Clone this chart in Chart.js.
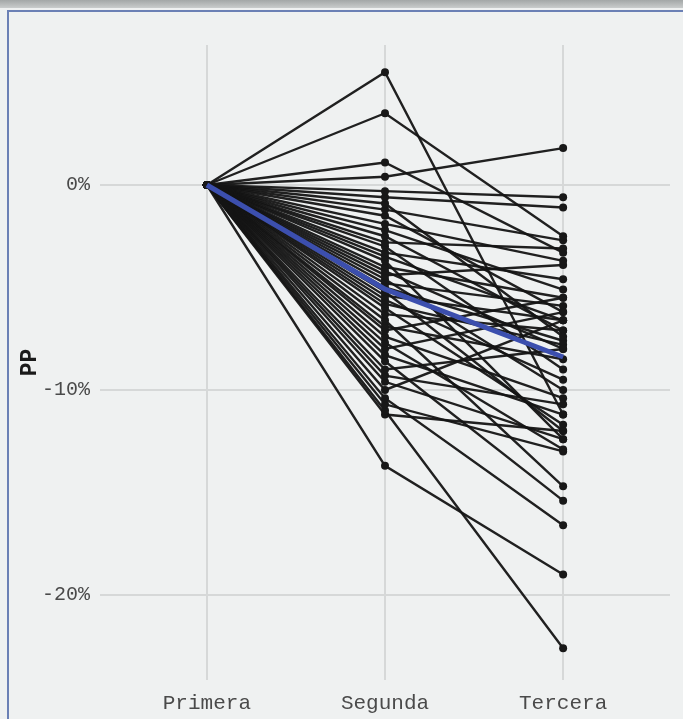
<!DOCTYPE html>
<html>
<head>
<meta charset="utf-8">
<script src="https://cdn.jsdelivr.net/npm/chart.js@4/dist/chart.umd.min.js"></script>
<style>
  html, body { margin: 0; padding: 0; width: 683px; height: 719px; overflow: hidden; background: #eff1f1; }
  #shade { position: absolute; left: 0; top: 0; width: 683px; height: 8px; background: linear-gradient(#a3a7a7, #c9cccc); }
  #frameTop { position: absolute; left: 7px; top: 10px; width: 676px; height: 2px; background: #6b80b5; }
  #frameLeft { position: absolute; left: 7px; top: 10px; width: 2px; height: 709px; background: #6b80b5; }
  #wrap { position: absolute; left: 10px; top: 12px; width: 673px; height: 707px; }
</style>
</head>
<body>
<div id="shade"></div>
<div id="frameTop"></div>
<div id="frameLeft"></div>
<div id="wrap"><canvas id="c"></canvas></div>
<script>
// Rounds of measurement
const categories = ['Primera', 'Segunda', 'Tercera'];

// Every series starts at the baseline in the first round (%)
const baseline = 0;

// Change in the second round, one entry per series (%)
const segunda = [
  5.5, 3.5, 1.1, 0.4, -0.3, -0.6, -0.9, -1.2, -1.5, -1.9,
  -2.2, -2.5, -2.8, -3.0, -3.3, -3.5, -3.7, -4.0, -4.2, -4.4,
  -4.6, -4.8, -5.0, -5.2, -5.4, -5.6, -5.8, -6.0, -6.3, -6.6,
  -6.9, -7.1, -7.4, -7.7, -8.0, -8.3, -8.6, -9.0, -9.3, -9.6,
  -10.0, -10.4, -10.7, -11.0, -11.2, -13.7
];

// Change in the third round, same order as above (%)
const tercera = [
  -11.2, -2.5, -3.3, 1.8, -0.6, -1.1, -7.4, -2.7, -6.2, -3.7,
  -5.1, -7.1, -3.1, -9.0, -4.6, -6.6, -12.4, -5.5, -8.0, -3.9,
  -10.0, -5.9, -7.6, -12.0, -6.6, -9.5, -7.8, -11.7, -7.1, -14.7,
  -8.5, -5.5, -10.4, -12.9, -6.2, -11.2, -15.4, -8.0, -10.7, -12.4,
  -6.6, -16.6, -13.0, -22.6, -12.0, -19.0
];

// Labelled gridlines on the y axis (%)
const yTicks = [-20, -10, 0];

const mean = arr => arr.reduce((s, v) => s + v, 0) / arr.length;

const datasets = segunda.map((s, i) => ({
  data: [
    { x: 1, y: baseline },
    { x: 2, y: s },
    { x: 3, y: tercera[i] }
  ],
  showLine: true,
  borderColor: 'rgba(20,20,20,0.95)',
  borderWidth: 2.4,
  pointRadius: 4,
  pointBorderWidth: 0,
  pointBackgroundColor: '#181818',
  order: 2
}));

// Average trajectory drawn on top
datasets.push({
  data: [
    { x: 1, y: baseline },
    { x: 2, y: mean(segunda) },
    { x: 3, y: mean(tercera) }
  ],
  showLine: true,
  borderColor: '#3c4fae',
  borderWidth: 5,
  pointRadius: 0,
  order: 1
});

const monoFamily = '"Liberation Mono", "DejaVu Sans Mono", monospace';
const tickFont = { family: monoFamily, size: 20 };
const gridColor = '#d6d8d8';

new Chart(document.getElementById('c'), {
  type: 'scatter',
  data: { datasets },
  options: {
    responsive: true,
    maintainAspectRatio: false,
    animation: false,
    layout: { padding: { top: 33, right: 13, bottom: 0, left: 0 } },
    plugins: { legend: { display: false }, tooltip: { enabled: false } },
    scales: {
      x: {
        type: 'linear',
        min: 0.4,
        max: 3.6,
        afterBuildTicks: axis => { axis.ticks = categories.map((c, i) => ({ value: i + 1 })); },
        afterFit: axis => { axis.height = 39; },
        ticks: {
          callback: v => categories[v - 1],
          font: { family: monoFamily, size: 21 },
          color: '#4a4a4a',
          padding: 11,
          maxRotation: 0,
          autoSkip: false
        },
        grid: { color: gridColor, lineWidth: 2, drawTicks: false },
        border: { display: false }
      },
      y: {
        type: 'linear',
        min: -24.15,
        max: 6.83,
        afterBuildTicks: axis => { axis.ticks = yTicks.map(v => ({ value: v })); },
        afterFit: axis => { axis.width = 90; },
        ticks: {
          callback: v => v + '%',
          font: tickFont,
          color: '#4a4a4a',
          padding: 10
        },
        grid: { color: gridColor, lineWidth: 2, drawTicks: false },
        border: { display: false },
        title: {
          display: true,
          text: 'PP',
          font: { family: monoFamily, size: 23, weight: 'bold' },
          color: '#1a1a1a',
          padding: { top: 6, bottom: 0 }
        }
      }
    }
  }
});
</script>
</body>
</html>
